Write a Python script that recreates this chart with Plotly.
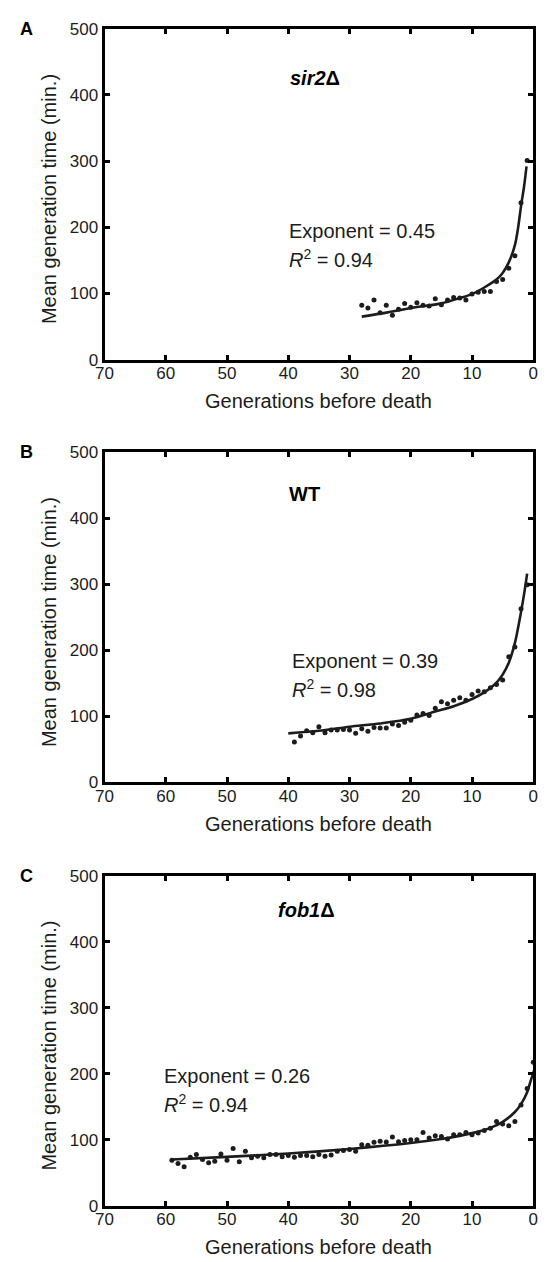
import plotly.graph_objects as go

# ---------------- data ----------------
# Panel A: sir2Δ
gen_a = [28, 27, 26, 25, 24, 23, 22, 21, 20, 19, 18, 17, 16, 15, 14, 13, 12, 11, 10, 9, 8, 7, 6, 5, 4, 3, 2, 1]
mgt_a = [82, 78, 90, 71, 82, 67, 76, 85, 79, 86, 82, 81, 92, 83, 90, 94, 93, 90, 99, 102, 103, 103, 118, 121, 138, 157, 237, 301]
fit_gen_a = [28, 24, 20, 15, 12, 10, 8, 6, 5, 4, 3, 2.5, 2, 1.5, 1.1]
fit_mgt_a = [65, 71, 78, 85, 93, 99, 109, 121, 131, 147, 173, 198, 232, 262, 292]

# Panel B: WT
gen_b = [39, 38, 37, 36, 35, 34, 33, 32, 31, 30, 29, 28, 27, 26, 25, 24, 23, 22, 21, 20,
         19, 18, 17, 16, 15, 14, 13, 12, 11, 10, 9, 8, 7, 6, 5, 4, 3, 2, 1]
mgt_b = [61, 70, 78, 75, 84, 75, 79, 79, 80, 79, 74, 81, 77, 83, 82, 82, 88, 86, 91, 94,
         102, 104, 101, 112, 122, 119, 124, 128, 124, 133, 138, 137, 143, 148, 155, 190, 205, 263, 299]
fit_gen_b = [40, 35, 30, 25, 20, 16, 13, 10, 8, 6, 5, 4, 3, 2, 1.5, 1]
fit_mgt_b = [74, 78, 84, 89, 96, 107, 115, 126, 136, 151, 163, 181, 211, 258, 285, 316]

# Panel C: fob1Δ
gen_c = [59, 58, 57, 56, 55, 54, 53, 52, 51, 50, 49, 48, 47, 46, 45, 44, 43, 42, 41, 40,
         39, 38, 37, 36, 35, 34, 33, 32, 31, 30, 29, 28, 27, 26, 25, 24, 23, 22, 21, 20,
         19, 18, 17, 16, 15, 14, 13, 12, 11, 10, 9, 8, 7, 6, 5, 4, 3, 2, 1, 0]
mgt_c = [69, 64, 59, 73.5, 77.5, 70, 65, 67.5, 78.5, 69, 86.5, 66.5, 82.5, 72.5, 75, 72.5, 77.5, 77.5, 74, 76,
         73.5, 76, 76, 74, 77.5, 75, 77, 82.5, 83.5, 85, 82.5, 92.5, 91.5, 96, 97.5, 96.5, 104, 97, 99, 100,
         100, 111, 102.5, 106, 105, 101, 107.5, 107.5, 111, 107.5, 110, 114, 117.5, 127.5, 124, 121, 127.5, 152.5, 177.5, 217.5]
fit_gen_c = [59, 50, 40, 30, 20, 15, 10, 7, 5, 3, 2, 1, 0.4, -0.2]
fit_mgt_c = [70, 74, 79, 86, 95, 101, 110, 118, 127, 142, 154, 172, 190, 207]

panel_letters = ["A", "B", "C"]
panel_titles = ["<b><i>sir2</i>Δ</b>", "<b>WT</b>", "<b><i>fob1</i>Δ</b>"]
exponents = ["0.45", "0.39", "0.26"]
r2_values = ["0.94", "0.98", "0.94"]
x_ticks = [70, 60, 50, 40, 30, 20, 10, 0]
y_ticks = [0, 100, 200, 300, 400, 500]

# ---------------- layout geometry (pixels) ----------------
W, H = 549, 1262
FONT = "Liberation Sans, Arial, sans-serif"
INK = "#1c1c1c"
plot_left, plot_right = 98, 538
panels_px = [(20, 356), (450, 785), (880, 1215)]          # (top, bottom) in px
title_px = [(314, 70), (303, 492), (305, 915)]             # panel title centres
stat_px = [(285, 225, 253), (288, 662, 690), (157, 1083, 1111)]  # left x, line1 y, line2 y


def px_x(x):
    return x / W


def px_y(y):
    return 1 - y / H


fig = go.Figure()
datasets = [(gen_a, mgt_a, fit_gen_a, fit_mgt_a),
            (gen_b, mgt_b, fit_gen_b, fit_mgt_b),
            (gen_c, mgt_c, fit_gen_c, fit_mgt_c)]

annotations = []
for i, (gx, gy, fx, fy) in enumerate(datasets):
    n = "" if i == 0 else str(i + 1)
    xa, ya = "x" + n, "y" + n
    fig.add_trace(go.Scatter(x=fx, y=fy, mode="lines", xaxis=xa, yaxis=ya,
                             line=dict(color=INK, width=2.6, shape="spline", smoothing=0.8),
                             showlegend=False, hoverinfo="skip", cliponaxis=False))
    fig.add_trace(go.Scatter(x=gx, y=gy, mode="markers", xaxis=xa, yaxis=ya,
                             marker=dict(color=INK, size=5), showlegend=False, cliponaxis=False))
    top, bottom = panels_px[i]
    axis_common = dict(showline=True, linecolor="black", linewidth=3, mirror="ticks",
                       ticks="inside", ticklen=5, tickwidth=2.5, tickcolor="black",
                       showgrid=False, zeroline=False,
                       tickfont=dict(family=FONT, size=17, color=INK))
    fig.update_layout(**{
        "xaxis" + n: dict(axis_common, domain=[px_x(plot_left), px_x(plot_right)],
                          range=[70, 0], tickvals=x_ticks, anchor=ya,
                          ticklabelstandoff=-4),
        "yaxis" + n: dict(axis_common, domain=[px_y(bottom), px_y(top)],
                          range=[0, 500], tickvals=y_ticks, anchor=xa),
    })
    # panel letter
    annotations.append(dict(x=px_x(18), y=px_y(top), xref="paper", yref="paper",
                            text="<b>" + panel_letters[i] + "</b>", showarrow=False,
                            font=dict(family=FONT, size=18, color="black"),
                            xanchor="center", yanchor="middle"))
    # panel title
    tx, ty = title_px[i]
    annotations.append(dict(x=px_x(tx), y=px_y(ty), xref="paper", yref="paper",
                            text=panel_titles[i], showarrow=False,
                            font=dict(family=FONT, size=20, color="black"),
                            xanchor="center", yanchor="middle"))
    # statistics
    sx, s1, s2 = stat_px[i]
    annotations.append(dict(x=px_x(sx), y=px_y(s1), xref="paper", yref="paper",
                            text="Exponent = " + exponents[i], showarrow=False,
                            font=dict(family=FONT, size=20, color=INK),
                            xanchor="left", yanchor="middle"))
    annotations.append(dict(x=px_x(sx), y=px_y(s2), xref="paper", yref="paper",
                            text="<i>R</i><sup>2</sup> = " + r2_values[i], showarrow=False,
                            font=dict(family=FONT, size=20, color=INK),
                            xanchor="left", yanchor="middle"))
    # axis titles
    annotations.append(dict(x=px_x((plot_left + plot_right) / 2), y=px_y(bottom + 42),
                            xref="paper", yref="paper", text="Generations before death",
                            showarrow=False, font=dict(family=FONT, size=20, color=INK),
                            xanchor="center", yanchor="middle"))
    annotations.append(dict(x=px_x(41), y=px_y((top + bottom) / 2 + 5), xref="paper", yref="paper",
                            text="Mean generation time (min.)", textangle=-90,
                            showarrow=False, font=dict(family=FONT, size=20, color=INK),
                            xanchor="center", yanchor="middle"))

fig.update_layout(width=W, height=H, margin=dict(l=0, r=0, t=0, b=0),
                  paper_bgcolor="white", plot_bgcolor="white",
                  annotations=annotations, showlegend=False)

fig.write_html("out.html", config={"displayModeBar": False},
               post_script="document.body.style.margin='0';document.body.style.overflow='hidden';")
